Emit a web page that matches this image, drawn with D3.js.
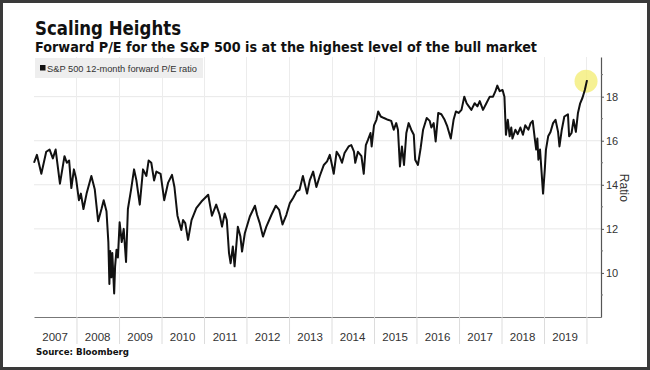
<!DOCTYPE html>
<html lang="en">
<head>
<meta charset="UTF-8">
<script src="https://d3js.org/d3.v7.min.js"></script>
<style>
  body { margin: 0; background: #fff; }
  svg { display: block; }
  .title { font-family: "DejaVu Sans", Verdana, sans-serif; font-weight: bold; fill: #111; }
  .small { font-family: "Liberation Sans", Arial, sans-serif; fill: #333; }
</style>
</head>
<body>
<svg id="chart"></svg>
<script>
// S&P 500 12-month forward P/E ratio
const peDates = [
  "2007-01-01","2007-01-26","2007-03-05","2007-04-16","2007-05-15","2007-06-12","2007-07-06","2007-08-12",
  "2007-09-20","2007-10-10","2007-10-30","2007-11-18","2007-12-10","2007-12-28",
  "2008-01-22","2008-02-08","2008-03-01","2008-03-28","2008-05-08","2008-06-06","2008-07-05","2008-08-03",
  "2008-08-22","2008-09-15","2008-10-01","2008-10-10","2008-10-17","2008-10-27","2008-11-04","2008-11-20",
  "2008-11-28","2008-12-10","2008-12-22",
  "2009-01-06","2009-01-24","2009-02-10","2009-03-02","2009-03-18","2009-04-15","2009-05-10","2009-05-30",
  "2009-06-28","2009-07-26","2009-08-24","2009-09-12","2009-10-05","2009-10-29","2009-11-18","2009-12-24",
  "2010-01-24","2010-02-27","2010-04-01","2010-04-22","2010-05-18","2010-06-20","2010-07-05","2010-07-24",
  "2010-08-17","2010-09-16","2010-10-27","2010-12-10",
  "2011-02-06","2011-03-10","2011-04-16","2011-05-15","2011-06-05","2011-06-28","2011-07-16","2011-08-04",
  "2011-08-18","2011-09-06","2011-09-21","2011-10-19","2011-11-10","2011-11-24","2011-12-18",
  "2012-01-30","2012-03-14","2012-04-01","2012-04-24","2012-05-22","2012-06-20","2012-08-03","2012-09-09",
  "2012-10-08","2012-11-06","2012-12-09",
  "2013-01-08","2013-02-05","2013-03-07","2013-04-01","2013-04-30","2013-06-05","2013-06-28","2013-07-27",
  "2013-08-24","2013-09-22","2013-10-27","2013-11-24","2013-12-17",
  "2014-01-05","2014-01-20","2014-02-14","2014-03-10","2014-04-01","2014-04-23","2014-05-28","2014-06-20",
  "2014-07-13","2014-07-24","2014-08-16","2014-09-15","2014-10-05","2014-10-23","2014-11-11","2014-12-02",
  "2014-12-12",
  "2015-01-01","2015-01-22","2015-02-06","2015-02-28","2015-03-28","2015-05-01","2015-05-29","2015-06-20",
  "2015-07-11","2015-07-26","2015-08-12","2015-08-29","2015-09-16","2015-10-06","2015-10-26","2015-11-17",
  "2015-12-09","2015-12-21",
  "2016-01-14","2016-02-06","2016-02-27","2016-03-29","2016-04-24","2016-05-08","2016-05-28","2016-06-14",
  "2016-07-06","2016-08-02","2016-08-30","2016-09-22","2016-10-22","2016-11-15","2016-12-05","2016-12-28",
  "2017-01-22","2017-02-15","2017-03-07","2017-03-26","2017-04-17","2017-05-15","2017-06-08","2017-06-28",
  "2017-07-26","2017-08-24","2017-09-22","2017-10-20","2017-11-10","2017-11-26","2017-12-16",
  "2018-01-10","2018-01-26","2018-02-08","2018-02-24","2018-03-12","2018-03-26","2018-04-05","2018-04-30",
  "2018-05-20","2018-06-12","2018-07-04","2018-07-24","2018-08-20","2018-09-08","2018-09-26","2018-10-15",
  "2018-10-26","2018-11-05","2018-11-14","2018-11-28","2018-12-24",
  "2019-01-08","2019-01-18","2019-02-06","2019-02-26","2019-03-20","2019-04-10","2019-05-02","2019-05-14",
  "2019-06-03","2019-06-25","2019-07-26","2019-08-05","2019-08-26","2019-09-12","2019-10-02","2019-10-20",
  "2019-11-08","2019-11-28","2019-12-18","2020-01-06"
];
const peValues = [
  15.0,15.36,14.5,15.5,15.6,15.2,15.6,14.05,
  15.3,15.0,15.1,13.85,14.7,14.3,
  13.3,13.6,12.9,13.6,14.4,13.8,12.35,12.9,
  13.3,12.8,11.4,9.5,11.0,9.8,10.9,9.07,
  10.3,11.05,10.7,
  12.3,11.4,12.0,10.5,12.9,13.8,14.7,14.2,
  13.1,14.7,14.4,15.1,15.0,14.2,14.6,14.5,
  13.3,14.1,14.45,13.9,12.6,11.95,12.4,12.26,
  11.5,12.4,12.94,13.24,
  13.55,12.6,13.1,12.64,12.1,12.7,12.4,10.9,
  10.44,11.2,10.3,12.1,11.65,10.97,11.8,
  12.56,13.05,12.64,12.26,11.65,12.1,12.64,13.05,
  12.86,12.2,12.64,
  13.17,13.4,13.7,13.77,14.4,13.6,14.2,14.6,
  13.9,14.4,14.9,15.06,15.36,
  14.9,14.5,15.5,15.3,15.0,15.44,15.74,15.8,
  15.5,15.0,15.5,15.3,14.5,15.8,16.05,16.35,
  15.74,
  16.7,16.95,17.33,17.1,17.03,16.95,16.9,16.5,
  16.8,16.5,14.83,15.74,14.9,16.35,16.8,16.5,
  16.27,15.14,
  14.9,15.67,16.5,17.03,16.9,16.6,16.8,15.97,
  17.26,17.2,16.95,16.65,16.1,16.95,17.33,17.26,
  17.4,18.0,17.7,17.56,17.4,17.7,17.56,17.8,
  17.4,17.7,18.0,18.0,18.25,18.5,18.25,
  18.3,18.0,16.27,16.95,16.2,16.6,16.1,16.5,
  16.3,16.6,16.27,16.7,16.5,16.8,16.9,16.05,
  15.6,16.1,15.14,15.6,13.6,
  14.7,15.6,16.2,16.4,16.8,16.95,16.4,15.74,
  16.5,17.1,17.2,16.2,16.35,16.95,16.4,17.26,
  17.7,17.95,18.3,18.75
];
const yearLabels = ["2007","2008","2009","2010","2011","2012","2013","2014","2015","2016","2017","2018","2019"];
const yTicks = [10, 12, 14, 16, 18];
const yMinorTicks = [9, 11, 13, 15, 17, 19];

const width = 650, height = 370;
const plot = { left: 34, right: 601, top: 57, bottom: 317 };

const parse = d3.timeParse("%Y-%m-%d");
const data = peDates.map((d, i) => ({ date: parse(d), value: peValues[i] }));

const svg = d3.select("#chart").attr("width", width).attr("height", height);

// outer frame
svg.append("rect").attr("x", 1.5).attr("y", 1.5).attr("width", width - 3).attr("height", height - 3)
  .attr("fill", "#fff").attr("stroke", "#3a3a3a").attr("stroke-width", 3);

const x = d3.scaleTime()
  .domain([new Date(2007, 0, 1), new Date(2020, 4, 5)])
  .range([plot.left, plot.right]);
const y = d3.scaleLinear().domain([8, 19.8]).range([plot.bottom, plot.top]);

const yearBounds = d3.range(2008, 2021).map(yr => new Date(yr, 0, 1));

// gridlines
svg.append("g").selectAll("line").data(yTicks).join("line")
  .attr("x1", plot.left).attr("x2", plot.right)
  .attr("y1", d => y(d)).attr("y2", d => y(d))
  .attr("stroke", "#e8e8e8").attr("stroke-width", 1);
svg.append("g").selectAll("line").data(yearBounds).join("line")
  .attr("x1", d => Math.round(x(d)) + 0.5).attr("x2", d => Math.round(x(d)) + 0.5)
  .attr("y1", plot.top).attr("y2", plot.bottom)
  .attr("stroke", "#ececec").attr("stroke-width", 1);

// bottom axis: long separators between years
const xAxis = svg.append("g")
  .attr("transform", `translate(0,${plot.bottom})`)
  .call(d3.axisBottom(x).tickValues(yearBounds).tickSize(27).tickSizeOuter(0).tickFormat(""));
xAxis.select(".domain").attr("stroke", "#777").attr("stroke-width", 1.2);
xAxis.selectAll(".tick line").attr("stroke", "#dcdcdc");

svg.append("g").selectAll("text").data(yearLabels).join("text")
  .attr("class", "small")
  .attr("x", d => x(new Date(+d, 6, 1)))
  .attr("y", 341)
  .attr("text-anchor", "middle")
  .attr("font-size", 11.5)
  .attr("fill", "#444")
  .text(d => d);

// right axis
const yAxis = svg.append("g")
  .attr("transform", `translate(${plot.right},0)`)
  .call(d3.axisRight(y).tickValues(yTicks).tickSize(3).tickPadding(2).tickSizeOuter(0));
yAxis.select(".domain").attr("stroke", "#555").attr("stroke-width", 1.2);
yAxis.selectAll(".tick line").attr("stroke", "#555");
yAxis.selectAll(".tick text").attr("class", "small").attr("font-size", 11).attr("fill", "#333");
svg.append("g").selectAll("line").data(yMinorTicks).join("line")
  .attr("x1", plot.right).attr("x2", plot.right + 2)
  .attr("y1", d => y(d)).attr("y2", d => y(d))
  .attr("stroke", "#777");

svg.append("text").attr("class", "small")
  .attr("transform", `translate(620,${(y(14) + 3)}) rotate(90)`)
  .attr("text-anchor", "middle")
  .attr("font-size", 12)
  .attr("fill", "#333")
  .text("Ratio");

// highlight on the last value
const last = data[data.length - 1];
svg.append("circle")
  .attr("cx", x(last.date) - 1).attr("cy", y(last.value) + 1).attr("r", 11.5)
  .attr("fill", "#f4ee78").attr("opacity", 0.8);

// line
svg.append("path").datum(data)
  .attr("fill", "none").attr("stroke", "#111").attr("stroke-width", 2)
  .attr("stroke-linejoin", "round")
  .attr("d", d3.line().x(d => x(d.date)).y(d => y(d.value)));

// legend
svg.append("rect").attr("x", 35).attr("y", 58).attr("width", 168).attr("height", 20).attr("fill", "#eeeeee");
svg.append("rect").attr("x", 40).attr("y", 65).attr("width", 5.5).attr("height", 5.5).attr("fill", "#111");
svg.append("text").attr("class", "small")
  .attr("x", 47).attr("y", 71.5).attr("font-size", 9.5)
  .attr("textLength", 150).attr("lengthAdjust", "spacingAndGlyphs")
  .text("S&P 500 12-month forward P/E ratio");

// titles
svg.append("text").attr("class", "title")
  .attr("x", 35).attr("y", 35).attr("font-size", 20)
  .attr("textLength", 146).attr("lengthAdjust", "spacingAndGlyphs")
  .text("Scaling Heights");
svg.append("text").attr("class", "title")
  .attr("x", 35).attr("y", 52).attr("font-size", 13.5)
  .attr("textLength", 502).attr("lengthAdjust", "spacingAndGlyphs")
  .text("Forward P/E for the S&P 500 is at the highest level of the bull market");

svg.append("text").attr("class", "title")
  .attr("x", 36).attr("y", 355).attr("font-size", 9.5)
  .attr("textLength", 93).attr("lengthAdjust", "spacingAndGlyphs")
  .text("Source: Bloomberg");
</script>
</body>
</html>
